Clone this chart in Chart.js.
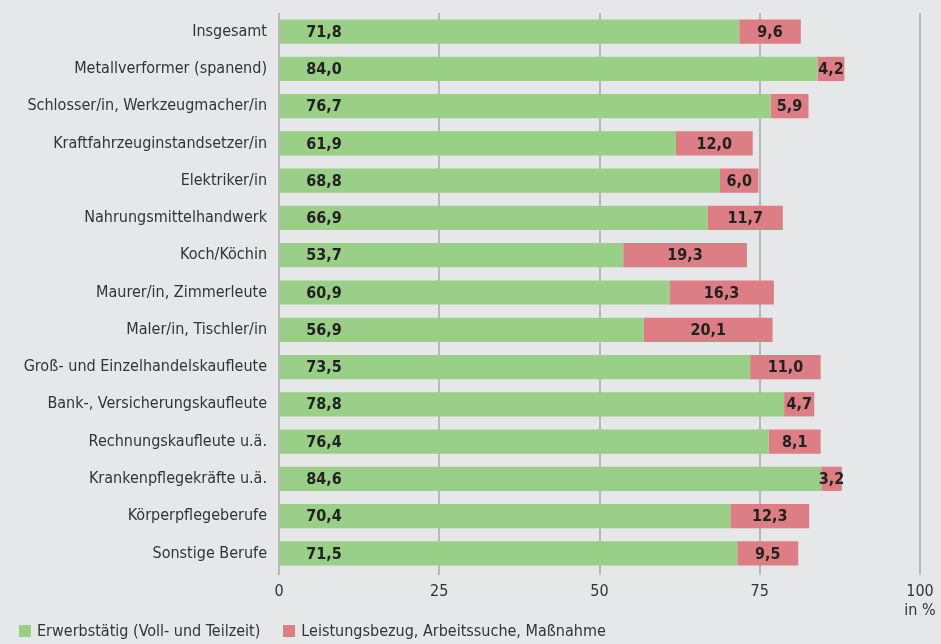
<!DOCTYPE html>
<html><head><meta charset="utf-8">
<script src="https://cdn.jsdelivr.net/npm/chart.js@4/dist/chart.umd.min.js"></script>
<style>
html,body{margin:0;padding:0;background:#e6e7e9;}
#wrap{position:relative;width:941px;height:644px;}
#legend{position:absolute;left:19px;top:621px;font-family:'Liberation Sans Narrow','DejaVu Sans Condensed',sans-serif;font-size:16px;color:#333;white-space:nowrap;line-height:20px;}
#legend span.item{display:inline-block;margin-right:23px;}
#legend i{display:inline-block;width:12px;height:12px;margin-right:6px;vertical-align:-1px;}
</style>
</head><body><div id="wrap"><canvas id="c" width="941" height="644"></canvas><div id="legend"></div></div>
<script>
const categories = ["Insgesamt","Metallverformer (spanend)","Schlosser/in, Werkzeugmacher/in","Kraftfahrzeuginstandsetzer/in","Elektriker/in","Nahrungsmittelhandwerk","Koch/Köchin","Maurer/in, Zimmerleute","Maler/in, Tischler/in","Groß- und Einzelhandelskaufleute","Bank-, Versicherungskaufleute","Rechnungskaufleute u.ä.","Krankenpflegekräfte u.ä.","Körperpflegeberufe","Sonstige Berufe"];
const erwerbstaetig = [71.8,84.0,76.7,61.9,68.8,66.9,53.7,60.9,56.9,73.5,78.8,76.4,84.6,70.4,71.5];
const leistungsbezug = [9.6,4.2,5.9,12.0,6.0,11.7,19.3,16.3,20.1,11.0,4.7,8.1,3.2,12.3,9.5];
const seriesNames = ["Erwerbstätig (Voll- und Teilzeit)","Leistungsbezug, Arbeitssuche, Maßnahme"];
const seriesColors = ["#9acf88","#dc7e83"];
const xTicks = [0,25,50,75,100];
const xTickLabels = ["0","25","50","75",["100","in %"]];

const FONT = "'Liberation Sans Narrow','DejaVu Sans Condensed','Roboto Condensed',sans-serif";
const fmt = v => v.toFixed(1).replace('.', ',');

const labelPlugin = {
  id: 'barLabels',
  afterDatasetsDraw(chart) {
    const ctx = chart.ctx;
    ctx.save();
    ctx.font = "bold 16px " + FONT;
    ctx.fillStyle = '#222';
    ctx.textBaseline = 'middle';
    ctx.textAlign = 'center';
    chart.data.datasets.forEach((ds, di) => {
      const meta = chart.getDatasetMeta(di);
      meta.data.forEach((bar, i) => {
        const v = ds.data[i];
        const x = di === 0 ? bar.base + 44 : (bar.base + bar.x) / 2;
        ctx.fillText(fmt(v), x, bar.y + 1);
      });
    });
    ctx.restore();
  }
};

const legendEl = document.getElementById('legend');
seriesNames.forEach((n, i) => {
  const s = document.createElement('span'); s.className = 'item';
  const b = document.createElement('i'); b.style.background = seriesColors[i];
  s.appendChild(b); s.appendChild(document.createTextNode(n));
  legendEl.appendChild(s);
});

new Chart(document.getElementById('c'), {
  type: 'bar',
  data: {
    labels: categories,
    datasets: [
      { label: seriesNames[0], data: erwerbstaetig, backgroundColor: seriesColors[0], barPercentage: 0.65, categoryPercentage: 1 },
      { label: seriesNames[1], data: leistungsbezug, backgroundColor: seriesColors[1], barPercentage: 0.65, categoryPercentage: 1 }
    ]
  },
  options: {
    indexAxis: 'y',
    responsive: false,
    animation: false,
    layout: { padding: { top: 13, right: 21, left: 0, bottom: 0 } },
    plugins: { legend: { display: false }, tooltip: { enabled: false } },
    scales: {
      x: {
        stacked: true, min: 0, max: 100,
        afterBuildTicks: s => { s.ticks = xTicks.map(v => ({ value: v })); },
        grid: { color: '#b8b8b8', lineWidth: 2, drawTicks: true, tickLength: 3, tickColor: '#b8b8b8' },
        border: { display: false },
        ticks: { color: '#333', font: { family: FONT, size: 16 }, padding: 7,
                 callback: (v, i) => xTickLabels[i] },
        afterFit: s => { s.height = 72; s.paddingLeft = 0; s.paddingRight = 0; }
      },
      y: {
        stacked: true,
        grid: { display: false, drawTicks: false },
        border: { display: false },
        ticks: { color: '#333', font: { family: FONT, size: 16 }, padding: 12, autoSkip: false },
        afterFit: s => { s.width = 279; s.paddingTop = 0; s.paddingBottom = 0; }
      }
    }
  },
  plugins: [labelPlugin]
});
</script></body></html>
